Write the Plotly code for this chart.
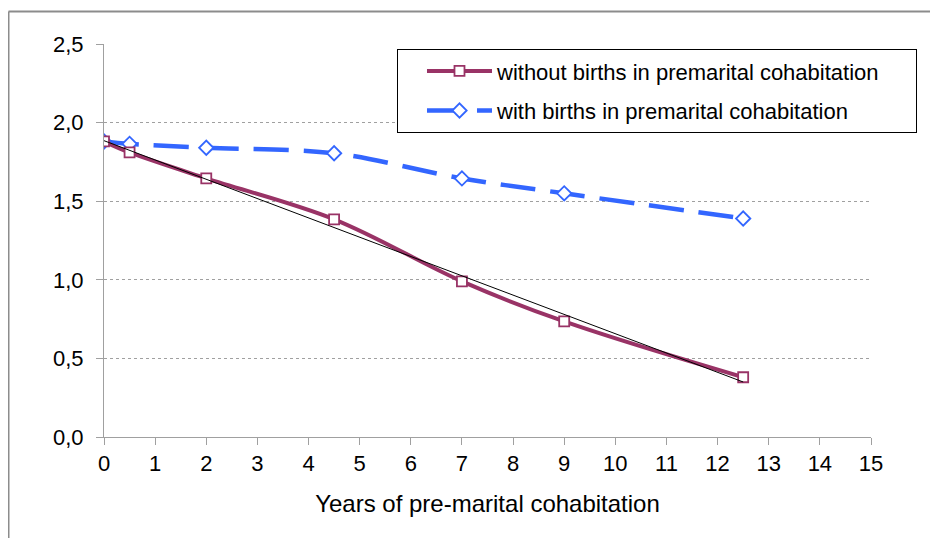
import plotly.graph_objects as go

years = [0, 0.5, 2, 4.5, 7, 9, 12.5]
without_births = [1.88, 1.81, 1.645, 1.385, 0.99, 0.735, 0.38]
with_births = [1.88, 1.865, 1.84, 1.805, 1.645, 1.55, 1.39]
trend_x = [0, 12.5]
trend_y = [1.885, 0.35]

name_without = "without births in premarital cohabitation"
name_with = "with births in premarital cohabitation"
x_title = "Years of pre-marital cohabitation"

PURPLE = "#993366"
BLUE = "#3366FF"
FONT = "Arial, Liberation Sans, sans-serif"
PAD = "\u00a0" * 5

fig = go.Figure()
fig.add_trace(go.Scatter(
    x=years, y=with_births, name=name_with, mode="lines+markers",
    line=dict(color=BLUE, width=4.5, dash="35px,15px", shape="spline", smoothing=1),
    marker=dict(symbol="diamond", size=11, color="white", line=dict(color=BLUE, width=1.8)),
    legendgroup="b", legendrank=2,
))
fig.add_trace(go.Scatter(
    x=years, y=without_births, name=name_without + PAD, mode="lines+markers",
    line=dict(color=PURPLE, width=4, shape="spline", smoothing=1),
    marker=dict(symbol="square", size=10, color="white", line=dict(color=PURPLE, width=1.8)),
    legendgroup="a", legendrank=1,
))
fig.add_trace(go.Scatter(
    x=trend_x, y=trend_y, mode="lines", showlegend=False,
    line=dict(color="black", width=1), hoverinfo="skip",
))

fig.update_layout(
    width=938, height=538,
    margin=dict(l=96, r=75, t=36, b=109),
    paper_bgcolor="white", plot_bgcolor="white",
    separators=",.",
    font=dict(family=FONT, size=22, color="black"),
    showlegend=True,
    legend=dict(
        x=0.382, y=0.987, xanchor="left", yanchor="top",
        bordercolor="black", borderwidth=1, bgcolor="white",
        font=dict(family=FONT, size=22, color="black"),
        traceorder="grouped", tracegroupgap=8, itemwidth=65,
        indentation=24,
    ),
    xaxis=dict(
        range=[0, 15], dtick=1, tick0=0, showgrid=False, zeroline=False,
        showline=True, linecolor="#a0a0a0", linewidth=1,
        ticks="outside", ticklen=7, tickcolor="#a0a0a0",
        tickfont=dict(size=22),
        title=dict(text=x_title, font=dict(size=24), standoff=19),
    ),
    yaxis=dict(
        range=[0, 2.5], dtick=0.5, tick0=0, tickformat=".1f",
        showgrid=True, gridcolor="#a0a0a0", griddash="dot", gridwidth=1,
        zeroline=False, showline=True, linecolor="#a0a0a0", linewidth=1,
        ticks="outside", ticklen=7, tickcolor="#a0a0a0",
        tickfont=dict(size=22), ticklabelstandoff=8,
    ),
    shapes=[
        dict(type="line", xref="paper", yref="paper",
             x0=-0.1245, x1=1.2, y0=1.083, y1=1.083,
             line=dict(color="#8c8c8c", width=2)),
        dict(type="line", xref="paper", yref="paper",
             x0=-0.1245, x1=-0.1245, y0=-0.35, y1=1.083,
             line=dict(color="#8c8c8c", width=2)),
    ],
)

fig.write_html("out.html")
